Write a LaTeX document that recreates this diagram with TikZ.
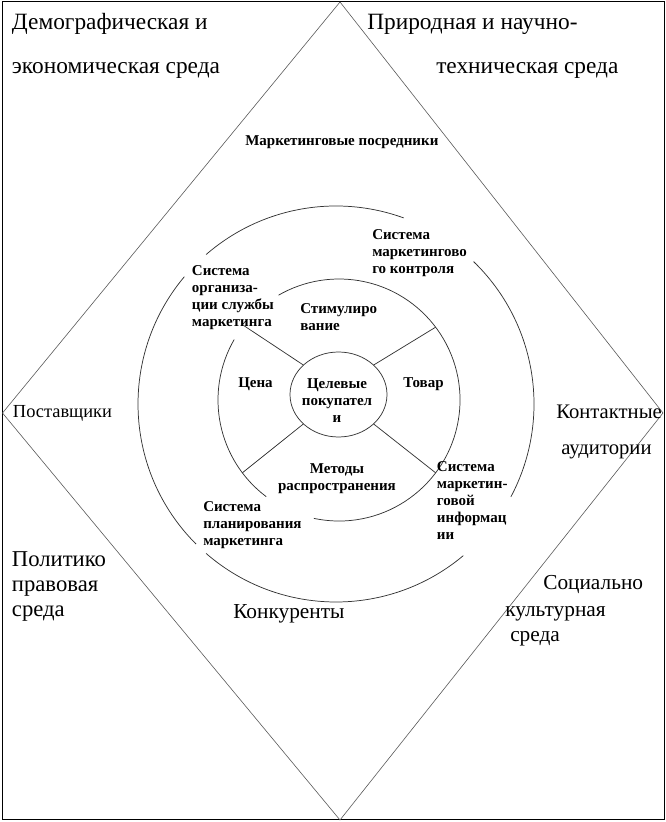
\documentclass[tikz,border=0pt]{standalone}
\usepackage{fontspec}
\setmainfont{Liberation Serif}
\usetikzlibrary{shapes.geometric}
\tikzset{
  frame/.style={draw=black, line width=0.75pt},
  rhomb/.style={draw=black!65, line width=0.45pt},
  ring/.style={draw=black!80, line width=0.55pt},
  toptext/.style={inner sep=0pt, font=\fontsize{17.5}{20}\selectfont},
  bigtext/.style={inner sep=0pt, font=\fontsize{16}{19}\selectfont},
  sidetext/.style={inner sep=0pt, font=\fontsize{15.5}{18}\selectfont},
  smalltext/.style={inner sep=0pt, align=left, font=\fontsize{11.25}{12.75}\selectfont\bfseries},
}
\begin{document}
\begin{tikzpicture}[x=0.75pt, y=0.75pt]
  \useasboundingbox (0,0) rectangle (666,822);
  \draw[frame] (2,2) rectangle (664,820);
  \draw[rhomb] (340,820) -- (663,409) -- (340,2) -- (2.5,409) -- cycle;
  % rings
  \node[circle, minimum size=297pt, inner sep=0pt, outer sep=0pt] (systems) at (336,418) {};
  \node[circle, minimum size=181.5pt, inner sep=0pt, outer sep=0pt] (mix) at (339,422) {};
  \node[ellipse, ring, minimum width=72.75pt, minimum height=63.75pt, inner sep=0pt, outer sep=0pt] (buyers) at (338.5,427.5) {};
  \foreach \s/\e in {70/131,140/225,229/310,332/406}
    \draw[ring] (systems.\s) arc[start angle=\s, end angle=\e, radius=198];
  \foreach \s/\e in {258/480,150/233}
    \draw[ring] (mix.\s) arc[start angle=\s, end angle=\e, radius=121];
  \foreach \a/\b in {40/37,140/142,220/217,320/323}
    \draw[ring] (buyers.\a) -- (mix.\b);
  % environment
  \node[toptext, anchor=base west] (demo1) at (11.7,792) {Демографическая и};
  \node[toptext, anchor=base west] (demo2) at (11.7,748) {экономическая среда};
  \node[toptext, anchor=base west] (nature1) at (367,792) {Природная и научно-};
  \node[toptext, anchor=base west] (nature2) at (436,748) {техническая среда};
  \node[sidetext, font=\fontsize{13.8}{16}\selectfont, anchor=base west] (suppliers) at (12.7,404) {Поставщики};
  \node[sidetext, anchor=base west] (public1) at (556,403) {Контактные};
  \node[sidetext, anchor=base west] (public2) at (561,367) {аудитории};
  \node[bigtext, font=\fontsize{17}{19}\selectfont, align=left, anchor=north west] (politics) at (11.7,271) {Политико\\правовая\\среда};
  \node[bigtext, anchor=base west] (rivals) at (233,203) {Конкуренты};
  \node[bigtext, anchor=base west] (culture1) at (543,232) {Социально};
  \node[bigtext, anchor=base west] (culture2) at (505,205) {культурная};
  \node[bigtext, anchor=base west] (culture3) at (510,180) {среда};
  % systems and mix
  \node[smalltext, anchor=base west] (agents) at (245,676) {Маркетинговые посредники};
  \node[smalltext, anchor=north west] (control) at (372,593) {Система\\маркетингово\\го контроля};
  \node[smalltext, anchor=north west] (org) at (191.7,556.5) {Система\\организа-\\ции службы\\маркетинга};
  \node[smalltext, anchor=north west] (promo) at (300,518.5) {Стимулиро\\вание};
  \node[smalltext, anchor=base west] (price) at (238,434) {Цена};
  \node[smalltext, anchor=base west] (product) at (403,434) {Товар};
  \node[smalltext, align=center, anchor=north] (target) at (337,444) {Целевые\\покупател\\и};
  \node[smalltext, align=center, anchor=north] (place) at (337,358.5) {Методы\\распространения};
  \node[smalltext, anchor=north west] (info) at (436.7,361) {Система\\маркетин-\\говой\\информац\\ии};
  \node[smalltext, anchor=north west] (plan) at (203,321) {Система\\планирования\\маркетинга};
\end{tikzpicture}
\end{document}
